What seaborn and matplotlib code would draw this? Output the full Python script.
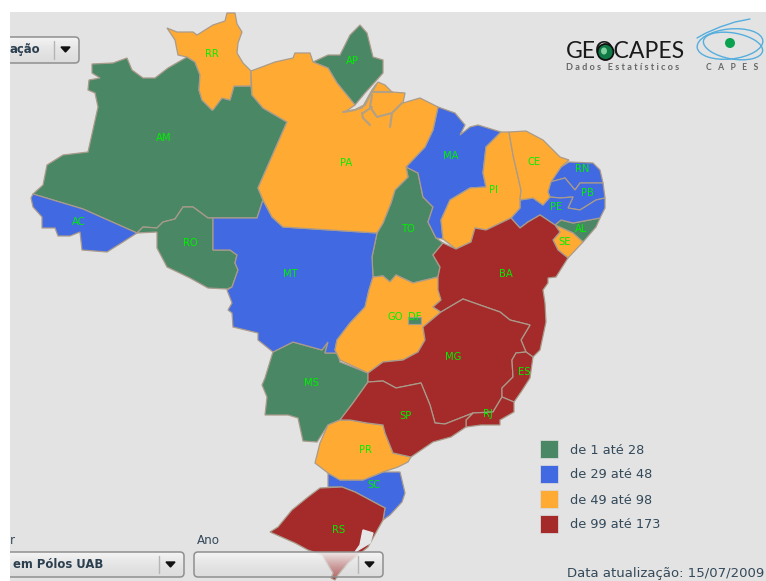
import numpy as np
import pandas as pd
import matplotlib
matplotlib.use('Agg')
import matplotlib.pyplot as plt
from matplotlib.patches import Ellipse, FancyBboxPatch, Rectangle
import seaborn as sns

# class of each state on the map
classes = ['de 1 até 28', 'de 29 até 48', 'de 49 até 98', 'de 99 até 173']
class_colors = ['#4a8865', '#4169e1', '#ffaa33', '#a52a2a']

state_names = ['AM', 'AP', 'RO', 'TO', 'MS', 'AL',
               'AC', 'MT', 'MA', 'RN', 'PB', 'PE', 'SC',
               'RR', 'PA', 'PI', 'CE', 'SE', 'GO', 'PR',
               'BA', 'MG', 'ES', 'RJ', 'SP', 'RS', 'DF']
state_classes = [0, 0, 0, 0, 0, 0,
                 1, 1, 1, 1, 1, 1, 1,
                 2, 2, 2, 2, 2, 2, 2,
                 3, 3, 3, 3, 3, 3, 0]

# state outlines in pixels
outlines = {
    'RR': [(167,28),(177,32),(193,32),(197,35),(213,25),(225,21),(227,13),(235,13),(237,24),(242,32),(238,43),(237,53),(243,63),(251,71),(251,86),(234,86),(230,100),(222,98),(213,110),(212,110),(202,100),(199,90),(200,75),(195,62),(187,57),(178,55),(175,40)],
    'AM': [(92,64),(113,63),(127,58),(132,70),(143,78),(155,78),(168,68),(187,57),(195,62),(200,75),(199,90),(202,100),(212,110),(222,98),(230,100),(234,86),(251,86),(252,95),(263,108),(287,122),(258,188),(263,200),(257,218),(213,218),(208,218),(193,207),(183,207),(175,219),(163,222),(157,228),(143,227),(137,233),(83,209),(33,194),(43,185),(47,165),(63,155),(88,152),(98,107),(95,93),(88,90),(89,80),(100,78),(92,73)],
    'AC': [(31,198),(33,194),(83,209),(137,233),(123,242),(107,252),(82,250),(80,232),(70,236),(58,236),(55,228),(42,228),(42,217),(33,207)],
    'RO': [(137,233),(143,227),(157,228),(163,222),(175,219),(183,207),(193,207),(208,218),(213,218),(213,250),(230,250),(237,255),(235,263),(238,270),(232,287),(227,289),(208,288),(190,278),(167,267),(157,248),(157,232)],
    'MT': [(213,218),(257,218),(263,200),(272,217),(283,227),(377,233),(372,257),(373,277),(369,290),(365,307),(350,323),(337,340),(335,350),(338,353),(325,353),(328,342),(322,350),(293,342),(273,352),(258,340),(258,333),(233,327),(232,313),(228,310),(232,303),(227,290),(232,287),(238,270),(235,263),(237,255),(230,250),(213,250)],
    'PA': [(251,71),(275,62),(293,58),(295,53),(310,53),(313,62),(328,68),(337,83),(355,105),(345,112),(362,108),(372,90),(378,82),(385,85),(392,92),(405,93),(403,103),(420,98),(438,107),(433,130),(425,147),(406,167),(408,177),(395,190),(391,203),(383,223),(377,233),(283,227),(272,217),(263,200),(258,188),(287,122),(263,108),(252,95)],
    'AP': [(313,62),(328,55),(340,55),(350,35),(360,25),(367,33),(373,57),(383,60),(383,73),(375,82),(365,93),(355,105),(337,83),(328,68)],
    'MA': [(438,107),(455,113),(465,125),(460,135),(470,127),(478,125),(501,132),(486,147),(483,173),(486,187),(470,188),(450,200),(441,220),(443,239),(436,238),(428,222),(433,207),(423,197),(418,173),(406,167),(425,147),(433,130)],
    'TO': [(406,167),(418,173),(423,197),(433,207),(428,222),(436,238),(443,243),(433,255),(440,267),(438,277),(413,283),(396,275),(390,282),(383,276),(373,277),(372,257),(377,233),(383,223),(391,203),(395,190),(408,177)],
    'PI': [(501,132),(509,132),(513,155),(521,190),(520,200),(520,208),(511,218),(486,230),(475,228),(471,242),(456,249),(443,239),(441,220),(450,200),(470,188),(486,187),(483,173),(486,147)],
    'CE': [(509,132),(526,131),(543,140),(560,157),(569,160),(561,167),(551,182),(548,192),(550,197),(543,205),(533,198),(520,200),(521,190),(513,155)],
    'RN': [(569,162),(593,163),(600,170),(603,183),(580,183),(575,190),(565,178),(550,182),(561,167)],
    'PB': [(550,182),(565,178),(575,190),(580,183),(603,183),(605,198),(596,200),(580,210),(568,208),(573,197),(560,198),(550,197),(548,192)],
    'PE': [(520,200),(533,198),(543,205),(550,197),(560,198),(573,197),(568,208),(580,210),(596,200),(605,198),(605,208),(600,218),(573,223),(561,220),(555,225),(540,215),(528,222),(520,228),(511,218),(520,208)],
    'AL': [(561,220),(573,223),(600,218),(596,227),(583,242),(573,233),(555,225)],
    'SE': [(555,225),(573,233),(583,242),(568,258),(558,250),(553,240),(560,232)],
    'BA': [(511,218),(520,228),(528,222),(540,215),(555,225),(560,232),(553,240),(558,250),(568,258),(556,277),(548,278),(548,283),(543,290),(545,303),(546,322),(540,350),(533,357),(526,352),(521,340),(530,325),(510,320),(500,312),(480,305),(463,299),(441,312),(433,307),(441,300),(438,290),(438,277),(440,267),(433,255),(443,243),(456,249),(471,242),(475,228),(486,230)],
    'GO': [(373,277),(383,276),(390,282),(396,275),(413,283),(438,277),(441,300),(433,307),(441,312),(423,327),(425,340),(418,352),(403,360),(383,362),(368,373),(340,360),(335,350),(337,340),(350,323),(365,307),(369,290)],
    'DF': [(408,317),(421,317),(421,324),(408,324)],
    'MS': [(273,352),(293,342),(322,350),(328,342),(325,353),(338,353),(340,362),(368,373),(368,382),(353,403),(340,420),(328,425),(317,442),(303,441),(298,418),(288,415),(265,415),(267,397),(262,385),(265,378),(272,355)],
    'MG': [(441,312),(463,299),(480,305),(500,312),(510,320),(530,325),(521,340),(526,352),(516,353),(512,360),(513,377),(502,388),(502,397),(493,412),(473,413),(445,424),(435,423),(430,405),(421,383),(396,388),(383,381),(368,382),(368,373),(383,362),(403,360),(418,352),(425,340),(423,327)],
    'SP': [(368,382),(383,381),(396,388),(421,383),(430,405),(435,423),(445,424),(473,413),(466,420),(466,427),(451,437),(433,442),(411,457),(393,453),(385,433),(383,425),(367,423),(350,420),(340,420),(353,403)],
    'RJ': [(473,413),(493,412),(502,397),(514,402),(514,412),(500,420),(500,425),(481,425),(466,427),(466,420)],
    'ES': [(526,352),(533,357),(530,378),(521,392),(514,402),(502,397),(502,388),(513,377),(512,360),(516,353)],
    'PR': [(328,425),(340,420),(350,420),(367,423),(383,425),(385,433),(393,453),(411,457),(408,462),(398,467),(383,472),(363,480),(340,480),(328,473),(315,463),(320,443)],
    'SC': [(328,473),(340,480),(363,480),(383,472),(400,472),(405,493),(402,502),(390,515),(383,520),(385,508),(355,492),(342,487),(328,487)],
    'RS': [(320,488),(342,487),(355,492),(385,508),(383,520),(368,547),(348,563),(338,575),(335,580),(331,578),(333,573),(322,555),(308,550),(295,543),(270,532),(278,527),(292,510),(308,497)],
}

label_names = ['AM', 'RR', 'AP', 'PA', 'AC', 'RO', 'MT', 'MA', 'PI', 'CE', 'RN', 'PB', 'PE', 'AL',
               'SE', 'TO', 'BA', 'MS', 'GO', 'DF', 'MG', 'ES', 'SP', 'RJ', 'PR', 'SC', 'RS']
label_x = [164, 212, 352, 346, 79, 190, 290, 451, 493, 534, 582, 587, 556, 581,
           565, 408, 506, 311, 395, 415, 453, 524, 405, 488, 365, 374, 339]
label_y = [138, 54, 61, 163, 222, 243, 274, 156, 190, 162, 169, 193, 207, 229,
           242, 229, 274, 383, 317, 317, 357, 372, 416, 414, 450, 485, 530]

# river mouth at the top of PA
delta_lines = [
    [(343,112),(355,110),(365,105),(370,95),(376,85)],
    [(372,95),(370,107),(377,117),(392,113),(402,103)],
    [(362,113),(363,118),(370,125)],
    [(363,113),(372,107)],
    [(392,113),(390,127)],
    [(372,92),(392,92)],
]
lagoon = [(363,530),(373,533),(370,543),(355,552),(360,545)]

legend_x = [549, 549, 549, 549]
legend_y = [449, 474, 499, 524]

state_df = pd.DataFrame({'state': state_names, 'group': [classes[i] for i in state_classes]})
legend_df = pd.DataFrame({'x': legend_x, 'y': legend_y, 'group': classes})
palette = dict(zip(classes, class_colors))


def draw_combo(ax, x0, y0, x1, y1):
    # semi transparent flash style dropdown
    box = FancyBboxPatch((x0, y0), x1 - x0, y1 - y0, boxstyle='round,pad=0,rounding_size=4',
                         fc='none', ec='#8f8f8f', lw=1.1, zorder=6)
    ax.add_patch(box)
    grad = np.ones((32, 2, 4))
    grad[..., :3] = np.linspace(0.97, 0.84, 32)[:, None, None]
    grad[..., 3] = np.linspace(0.92, 0.4, 32)[:, None]
    im = ax.imshow(grad, extent=(x0, x1, y1, y0), aspect='auto', zorder=5)
    im.set_clip_path(box)
    ax.plot([x1 - 25, x1 - 25], [y0 + 4, y1 - 4], color='#b5b5b5', lw=1, zorder=7)
    ax.fill([x1 - 18, x1 - 9, x1 - 13.5], [y0 + 10, y0 + 10, y0 + 15], color='#111111', zorder=7)


sns.set_theme(style='white')
plt.rcParams['font.family'] = ['DejaVu Sans']

fig = plt.figure(figsize=(7.66, 5.81), dpi=100)
ax = fig.add_axes([0, 0, 1, 1])
ax.add_patch(Rectangle((10, 12), 756, 569, fc='#e3e3e3', ec='none', zorder=0))

for _, row in state_df.iterrows():
    xs, ys = zip(*outlines[row['state']])
    ax.fill(xs, ys, facecolor=palette[row['group']], edgecolor='#a99b8b', lw=0.9, zorder=2)

for line in delta_lines:
    xs, ys = zip(*line)
    ax.plot(xs, ys, color='#b0a088', lw=1.5, zorder=3)
xs, ys = zip(*lagoon)
ax.fill(xs, ys, color='#e6e6e6', zorder=3)

for name, x, y in zip(label_names, label_x, label_y):
    ax.text(x, y, name, color='#00f000', fontsize=7.2, ha='center', va='center', zorder=4)

sns.scatterplot(data=legend_df, x='x', y='y', hue='group', palette=palette, marker='s', s=165,
                edgecolor='#d8d8d8', linewidth=0.6, legend=False, ax=ax, zorder=4)
for y, name in zip(legend_y, classes):
    ax.text(570, y + 1, name, color='#33495a', fontsize=9.3, va='center')

draw_combo(ax, 0, 37, 79, 63)
draw_combo(ax, 0, 552, 184, 577)
draw_combo(ax, 194, 552, 383, 577)

ax.text(10, 50, 'ação', color='#2b3f4f', fontsize=8.4, weight='bold', va='center', zorder=8)
ax.text(13, 565, 'em Pólos UAB', color='#2b3f4f', fontsize=8.4, weight='bold', va='center', zorder=8)
ax.text(10, 541, 'r', color='#33495a', fontsize=8.6, va='center')
ax.text(197, 541, 'Ano', color='#33495a', fontsize=8.6, va='center')
ax.text(567, 573, 'Data atualização: 15/07/2009', color='#33495a', fontsize=9.5, va='center', zorder=8)

# logos
ax.text(566, 51, 'GEOCAPES', color='#1a1a1a', fontsize=16.6, va='center', family='Lato')
ax.text(566, 67, 'D a d o s   E s t a t í s t i c o s', color='#666666', fontsize=6.6, va='center',
        family='Lato', weight='bold')
ax.text(706, 67, 'C   A   P   E   S', color='#666666', fontsize=6.2, va='center', family='Lato', weight='bold')
ax.add_patch(Ellipse((605.5, 52), 16, 16, fc='#0f7a45', ec='#111111', lw=1.3, zorder=5))
ax.add_patch(Ellipse((604, 51), 6, 7, fc='#7fcf9f', ec='none', zorder=6))
ax.add_patch(Ellipse((730, 44), 66, 30, angle=-6, fc='none', ec='#55aedd', lw=1, zorder=5))
ax.add_patch(Ellipse((733, 46), 60, 26, angle=10, fc='none', ec='#55aedd', lw=1, zorder=5))
ax.plot([697, 706, 720, 735, 750], [38, 33, 27, 22, 19], color='#55aedd', lw=1, zorder=5)
ax.add_patch(Ellipse((730, 43), 10, 10, fc='#0aa24f', ec='none', zorder=6))

ax.add_patch(Rectangle((0, 0), 10, 581, fc='white', ec='none', zorder=9))
ax.set_xlim(0, 766)
ax.set_ylim(581, 0)
ax.axis('off')
fig.savefig('out.png', dpi=100, facecolor='white')
